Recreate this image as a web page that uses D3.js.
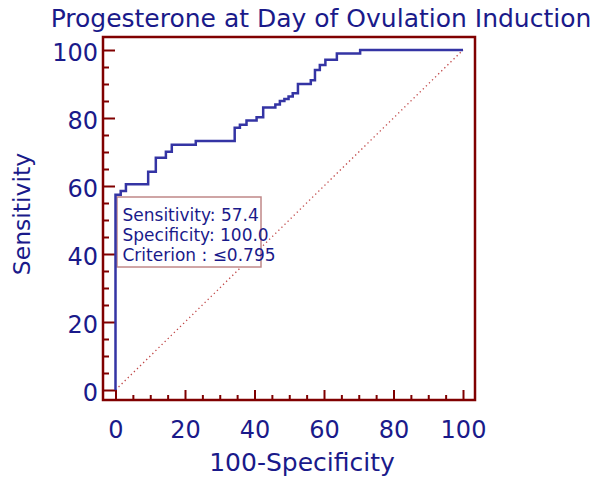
<!DOCTYPE html>
<html>
<head>
<meta charset="utf-8">
<script src="https://cdn.jsdelivr.net/npm/d3@7"></script>
<style>
  body { margin: 0; background: #fff; }
  text { font-family: "DejaVu Sans", sans-serif; fill: #1a1a8a; }
</style>
</head>
<body>
<script>
// ROC curve vertices (x = 100-Specificity, y = Sensitivity)
var rocX = [0, 0, 1.5, 1.5, 3.0, 3.0, 9.4, 9.4, 11.6, 11.6, 14.5, 14.5, 16.2, 16.2, 23.1, 23.1,
            34.3, 34.3, 35.8, 35.8, 37.7, 37.7, 40.6, 40.6, 42.5, 42.5, 46.0, 46.0, 47.3, 47.3, 48.6, 48.6,
            49.8, 49.8, 51.0, 51.0, 52.5, 52.5, 56.2, 56.2, 57.4, 57.4, 58.8, 58.8, 60.4, 60.4,
            63.7, 63.7, 70.4, 70.4, 100];
var rocY = [0, 57.4, 57.4, 58.5, 58.5, 60.5, 60.5, 64.2, 64.2, 68.3, 68.3, 70.1, 70.1, 72.1, 72.1, 73.2,
            73.2, 77.1, 77.1, 78.0, 78.0, 79.3, 79.3, 80.2, 80.2, 83.1, 83.1, 84.0, 84.0, 85.0, 85.0, 85.6,
            85.6, 86.3, 86.3, 87.3, 87.3, 90.0, 90.0, 91.1, 91.1, 94.1, 94.1, 95.6, 95.6, 97.1,
            97.1, 99.0, 99.0, 100, 100];
var majorTicks = [0, 20, 40, 60, 80, 100];
var minorTicks = d3.range(0, 101, 5).filter(function(d){ return d % 20 != 0; });
var labelLines = ["Sensitivity: 57.4", "Specificity: 100.0", "Criterion : \u22640.795"];

var width = 606, height = 481;
var frameColor = "#800000";

var svg = d3.select("body").append("svg")
    .attr("width", width)
    .attr("height", height);

var x = d3.scaleLinear().domain([0, 100]).range([115.5, 463]);
var y = d3.scaleLinear().domain([0, 100]).range([390, 50]);

//title
svg.append("text")
    .attr("x", 321).attr("y", 27)
    .attr("text-anchor", "middle")
    .style("font-size", "25px")
    .text("Progesterone at Day of Ovulation Induction");

//frame
svg.append("rect")
    .attr("x", 103).attr("y", 37)
    .attr("width", 372).attr("height", 363)
    .attr("fill", "none")
    .attr("stroke", frameColor)
    .attr("stroke-width", 2.5);

//y axis, ticks pointing inward
var yMajor = svg.append("g").attr("transform", "translate(103,0)")
    .call(d3.axisLeft(y).tickValues(majorTicks).tickSize(-12).tickPadding(5));
var yMinor = svg.append("g").attr("transform", "translate(103,0)")
    .call(d3.axisLeft(y).tickValues(minorTicks).tickSize(-6).tickFormat(""));

//x axis
var xMajor = svg.append("g").attr("transform", "translate(0,400)")
    .call(d3.axisBottom(x).tickValues(majorTicks).tickSize(-10).tickPadding(21));
var xMinor = svg.append("g").attr("transform", "translate(0,400)")
    .call(d3.axisBottom(x).tickValues(minorTicks).tickSize(-5).tickFormat(""));

[yMajor, yMinor, xMajor, xMinor].forEach(function(g){
    g.select(".domain").remove();
    g.selectAll("line").attr("stroke", frameColor).attr("stroke-width", 2);
    g.selectAll("text")
        .attr("fill", "#1a1a8a")
        .style("font-size", "24px")
        .style("font-family", "DejaVu Sans, sans-serif");
});
yMajor.selectAll("text").attr("dy", "0.42em");

//axis titles
svg.append("text")
    .attr("x", 302).attr("y", 471)
    .attr("text-anchor", "middle")
    .style("font-size", "25px")
    .text("100-Specificity");

svg.append("text")
    .attr("transform", "translate(30,214) rotate(-90)")
    .attr("text-anchor", "middle")
    .style("font-size", "23.5px")
    .text("Sensitivity");

//reference diagonal
svg.append("path")
    .datum([0, 100])
    .attr("d", d3.line().x(function(d){ return x(d); }).y(function(d){ return y(d); }))
    .attr("fill", "none")
    .attr("stroke", "#c04848")
    .attr("stroke-width", 1.3)
    .attr("stroke-dasharray", "1.3,3");

//criterion label box
svg.append("rect")
    .attr("x", 117).attr("y", 197)
    .attr("width", 144).attr("height", 70)
    .attr("fill", "#fff")
    .attr("stroke", "#c08888")
    .attr("stroke-width", 1.5);

svg.selectAll(".crit")
    .data(labelLines)
    .enter()
    .append("text")
    .attr("class", "crit")
    .attr("x", 122.5)
    .attr("y", function(d, i){ return 220.5 + i * 20.3; })
    .style("font-size", "17px")
    .text(function(d){ return d; });

//roc curve
var rocData = rocX.map(function(d, i){ return [d, rocY[i]]; });
svg.append("path")
    .datum(rocData)
    .attr("d", d3.line().x(function(d){ return x(d[0]); }).y(function(d){ return y(d[1]); }))
    .attr("fill", "none")
    .attr("stroke", "#3434a4")
    .attr("stroke-width", 2.5)
    .attr("stroke-linejoin", "miter");
</script>
</body>
</html>
